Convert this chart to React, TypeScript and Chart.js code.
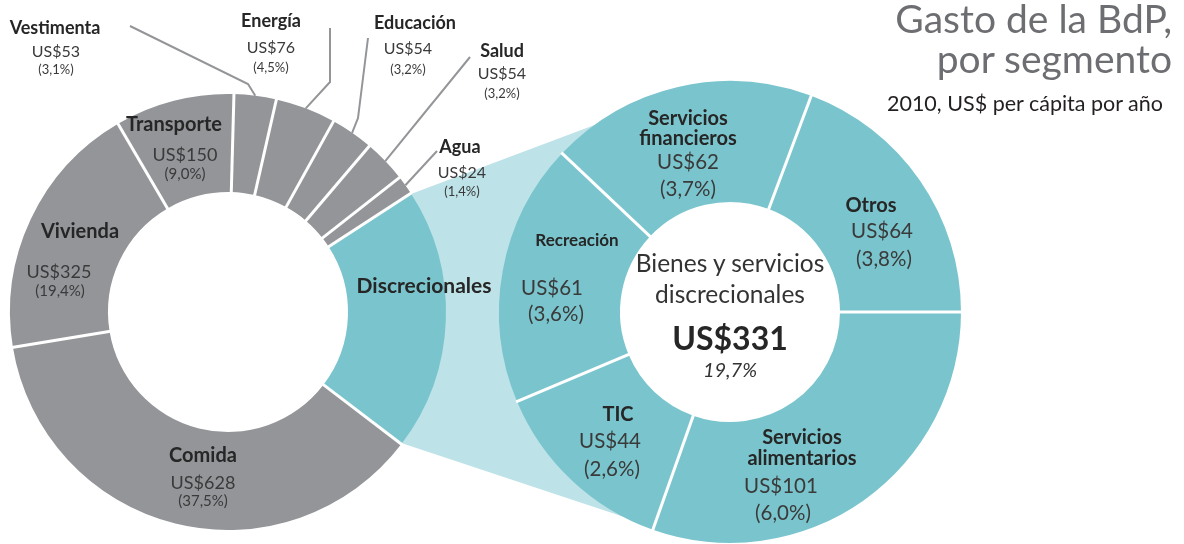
import React, { useEffect, useRef } from "react";
import { Chart, registerables } from "chart.js";

Chart.register(...registerables);

const FONT = "Lato, 'Open Sans', sans-serif";

// ---- Data: overall spending by segment (clockwise from the zoomed slice) ----
const mainCategories = ["Discrecionales", "Comida", "Vivienda", "Transporte", "Vestimenta", "Energía", "Educación", "Salud", "Agua"];
const mainValues = [331, 628, 325, 150, 53, 76, 54, 54, 24];
const mainShares = ["19,7%", "37,5%", "19,4%", "9,0%", "3,1%", "4,5%", "3,2%", "3,2%", "1,4%"];

// ---- Data: breakdown of discretionary goods and services ----
const discCategories = ["Servicios alimentarios", "TIC", "Recreación", "Servicios financieros", "Otros"];
const discValues = [101, 44, 61, 62, 64];
const discShares = ["6,0%", "2,6%", "3,6%", "3,7%", "3,8%"];
const discTitle = ["Bienes y servicios", "discrecionales"];
const discTotal = 331;
const discTotalShare = "19,7%";

const titleLines = ["Gasto de la BdP,", "por segmento"];
const subtitle = "2010, US$ per cápita por año";

// ---- Styles ----
const GREY = "#939598";
const TEAL = "#7ac5cd";
const LIGHT_TEAL = "#bde2e7";
const NAME_COLOR = "#262626";
const VALUE_COLOR = "#3a3a3a";

// layout (label anchors, leader elbows)
const mainLabelLayout: any[] = [
  { name: [424, 284], kind: "disc" },
  { name: [203, 454], value: [203, 482], pct: [203, 500], kind: "ring" },
  { name: [80, 230], value: [59, 271], pct: [60, 290], kind: "ring" },
  { name: [174, 123], value: [185, 154], pct: [185, 173], kind: "ring" },
  { name: [55, 27], value: [56, 51], pct: [56, 69], kind: "top", leader: [[130, 26], [248, 84]] },
  { name: [271, 20], value: [271, 47], pct: [271, 67], kind: "top", leader: [[330, 28], [330, 82]] },
  { name: [415, 22], value: [408, 48], pct: [408, 69], kind: "top", leader: [[368, 38], [358, 118]] },
  { name: [502, 50], value: [502, 73], pct: [502, 93], kind: "top", leader: [[470, 57]] },
  { name: [460, 146], value: [462, 172], pct: [462, 191], kind: "top", leader: [[437, 151]] },
];

const discLabelLayout: any[] = [
  { name: [[802, 436], [802, 457]], value: [781, 485], pct: [783, 512] },
  { name: [[618, 413]], value: [610, 440], pct: [612, 468] },
  { name: [[577, 239]], value: [552, 287], pct: [556, 313], small: true },
  { name: [[688, 117], [688, 137]], value: [688, 161], pct: [688, 188] },
  { name: [[871, 204]], value: [882, 230], pct: [884, 258] },
];

const CONNECT_TOP_DEG = 237;
const CONNECT_BOTTOM_DEG = 110;

function separatorsPlugin(id: string) {
  return {
    id,
    afterDatasetsDraw(chart: any) {
      const ctx = chart.ctx;
      const arcs = chart.getDatasetMeta(0).data;
      ctx.save();
      ctx.strokeStyle = "#ffffff";
      ctx.lineWidth = 3;
      arcs.forEach((a: any) => {
        const c = Math.cos(a.startAngle), s = Math.sin(a.startAngle);
        ctx.beginPath();
        ctx.moveTo(a.x + (a.innerRadius - 1) * c, a.y + (a.innerRadius - 1) * s);
        ctx.lineTo(a.x + (a.outerRadius + 1) * c, a.y + (a.outerRadius + 1) * s);
        ctx.stroke();
      });
      ctx.restore();
    },
  };
}

export default function App() {
  const leftRef = useRef<HTMLCanvasElement>(null);
  const rightRef = useRef<HTMLCanvasElement>(null);

  useEffect(() => {
    const right = new Chart(rightRef.current!, {
      type: "doughnut",
      data: {
        labels: discCategories,
        datasets: [{ data: discValues, backgroundColor: discValues.map(() => TEAL), borderWidth: 0, hoverOffset: 0 }],
      },
      options: {
        responsive: false,
        animation: false,
        events: [],
        rotation: 90,
        radius: 231,
        cutout: 110,
        layout: { padding: { left: 499, top: 81, right: 223, bottom: 1 } },
        plugins: { legend: { display: false }, tooltip: { enabled: false } },
      } as any,
      plugins: [separatorsPlugin("sepRight")],
    });

    const connector = {
      id: "connector",
      beforeDatasetsDraw(chart: any) {
        const L: any = chart.getDatasetMeta(0).data[0];
        const R: any = right.getDatasetMeta(0).data[0];
        if (!L || !R) return;
        const ctx = chart.ctx;
        const lr = L.outerRadius - 3;
        const rr = R.outerRadius - 3;
        const tR = (CONNECT_TOP_DEG * Math.PI) / 180;
        const bR = (CONNECT_BOTTOM_DEG * Math.PI) / 180;
        ctx.save();
        ctx.fillStyle = LIGHT_TEAL;
        ctx.beginPath();
        ctx.moveTo(L.x + lr * Math.cos(L.startAngle), L.y + lr * Math.sin(L.startAngle));
        ctx.lineTo(R.x + rr * Math.cos(tR), R.y + rr * Math.sin(tR));
        ctx.arc(R.x, R.y, rr, tR, bR, true);
        ctx.lineTo(L.x + lr * Math.cos(L.endAngle), L.y + lr * Math.sin(L.endAngle));
        ctx.arc(L.x, L.y, lr, L.endAngle, L.startAngle, true);
        ctx.closePath();
        ctx.fill();
        ctx.restore();
      },
    };

    const leaders = {
      id: "leaders",
      afterDatasetsDraw(chart: any) {
        const ctx = chart.ctx;
        const arcs = chart.getDatasetMeta(0).data;
        ctx.save();
        ctx.strokeStyle = GREY;
        ctx.lineWidth = 2;
        mainLabelLayout.forEach((lay, i) => {
          if (!lay.leader) return;
          const a: any = arcs[i];
          const mid = (a.startAngle + a.endAngle) / 2;
          ctx.beginPath();
          lay.leader.forEach((p: number[], k: number) => (k === 0 ? ctx.moveTo(p[0], p[1]) : ctx.lineTo(p[0], p[1])));
          ctx.lineTo(a.x + a.outerRadius * Math.cos(mid), a.y + a.outerRadius * Math.sin(mid));
          ctx.stroke();
        });
        ctx.restore();
      },
    };

    const left = new Chart(leftRef.current!, {
      type: "doughnut",
      data: {
        labels: mainCategories,
        datasets: [
          {
            data: mainValues,
            backgroundColor: mainCategories.map((_, i) => (i === 0 ? TEAL : GREY)),
            borderWidth: 0,
            hoverOffset: 0,
          },
        ],
      },
      options: {
        responsive: false,
        animation: false,
        events: [],
        rotation: 57,
        radius: 218,
        cutout: 120,
        layout: { padding: { left: 10, top: 94, right: 738, bottom: 14 } },
        plugins: { legend: { display: false }, tooltip: { enabled: false } },
      } as any,
      plugins: [connector, separatorsPlugin("sepLeft"), leaders],
    });

    return () => {
      left.destroy();
      right.destroy();
    };
  }, []);

  const T = (props: {
    x: number; y: number; text: string; size: number; weight?: number; italic?: boolean; color?: string; align?: "center" | "right";
  }) => (
    <div
      style={{
        position: "absolute",
        left: props.x,
        top: props.y,
        transform: props.align === "right" ? "translate(-100%, -50%)" : "translate(-50%, -50%)",
        fontSize: props.size,
        fontWeight: props.weight ?? 400,
        fontStyle: props.italic ? "italic" : "normal",
        color: props.color ?? VALUE_COLOR,
        lineHeight: 1,
        whiteSpace: "nowrap",
        fontFamily: FONT,
      }}
    >
      {props.text}
    </div>
  );

  const labels: any[] = [];
  mainLabelLayout.forEach((lay, i) => {
    const ring = lay.kind !== "top";
    const nameSize = lay.kind === "disc" ? 21 : ring ? 20 : 18;
    labels.push(<T key={"mn" + i} x={lay.name[0]} y={lay.name[1]} text={mainCategories[i]} size={nameSize} weight={700} color={NAME_COLOR} />);
    if (lay.value) labels.push(<T key={"mv" + i} x={lay.value[0]} y={lay.value[1]} text={"US$" + mainValues[i]} size={ring ? 18 : 16} />);
    if (lay.pct) labels.push(<T key={"mp" + i} x={lay.pct[0]} y={lay.pct[1]} text={"(" + mainShares[i] + ")"} size={ring ? 15 : 13} />);
  });
  discLabelLayout.forEach((lay, i) => {
    const words = discCategories[i].split(" ");
    const lines = lay.name.length > 1 ? words : [discCategories[i]];
    lines.forEach((w: string, k: number) =>
      labels.push(<T key={"dn" + i + k} x={lay.name[k][0]} y={lay.name[k][1]} text={w} size={lay.small ? 17 : 20} weight={700} color={NAME_COLOR} />)
    );
    labels.push(<T key={"dv" + i} x={lay.value[0]} y={lay.value[1]} text={"US$" + discValues[i]} size={20.5} />);
    labels.push(<T key={"dp" + i} x={lay.pct[0]} y={lay.pct[1]} text={"(" + discShares[i] + ")"} size={20.5} />);
  });

  return (
    <div style={{ position: "fixed", left: 0, top: 0, width: 1184, height: 544, background: "#fff", overflow: "hidden" }}>
      <canvas ref={leftRef} width={1184} height={544} style={{ position: "absolute", left: 0, top: 0 }} />
      <canvas ref={rightRef} width={1184} height={544} style={{ position: "absolute", left: 0, top: 0 }} />
      {labels}
      <T x={730} y={263} text={discTitle[0]} size={24.5} weight={400} color="#333" />
      <T x={730} y={294} text={discTitle[1]} size={24.5} weight={400} color="#333" />
      <T x={730} y={338} text={"US$" + discTotal} size={32} weight={700} color={NAME_COLOR} />
      <T x={730} y={369} text={discTotalShare} size={20} italic color="#333" />
      <T x={1172} y={18} text={titleLines[0]} size={39} weight={400} color="#6d6e71" align="right" />
      <T x={1172} y={58} text={titleLines[1]} size={39} weight={400} color="#6d6e71" align="right" />
      <T x={1163} y={104} text={subtitle} size={21.5} color="#231f20" align="right" />
    </div>
  );
}
